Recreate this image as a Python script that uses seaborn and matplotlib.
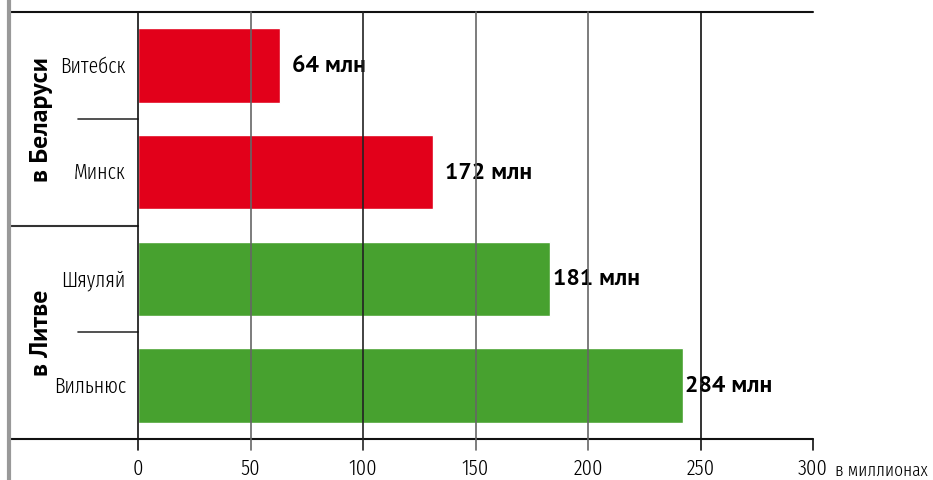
import matplotlib
matplotlib.use('Agg')
import matplotlib.pyplot as plt
import matplotlib.transforms as mtransforms
from matplotlib.lines import Line2D
import seaborn as sns
import pandas as pd

# data
cities = ['Витебск', 'Минск', 'Шяуляй', 'Вильнюс']
groups = ['в Беларуси', 'в Беларуси', 'в Литве', 'в Литве']
bar_values = [63, 131, 183, 242]
value_labels = ['64 млн', '172 млн', '181 млн', '284 млн']
x_ticks = [0, 50, 100, 150, 200, 250, 300]
x_unit = 'в миллионах'

group_colors = {'в Беларуси': '#E2001A', 'в Литве': '#47A12F'}
label_offsets = [9, 9, 2, 2]  # points right of bar end

df = pd.DataFrame({'city': cities, 'group': groups, 'value': bar_values})

sns.set_theme(style='white')
narrow = ['Fira Sans Extra Condensed', 'Roboto Condensed', 'DejaVu Sans']
bold = ['PT Sans', 'Open Sans', 'DejaVu Sans']
plt.rcParams['font.family'] = narrow
txt_color = '#000000'
txt_weight = 350

fig = plt.figure(figsize=(9.33, 4.81), dpi=100)
ax = fig.add_axes([138 / 933, 41 / 481, 675 / 933, 427 / 481])

sns.barplot(data=df, x='value', y='city', hue='group', palette=group_colors,
            width=0.7, dodge=False, legend=False, saturation=1, ax=ax, zorder=2)

ax.set_xlim(0, 300)
ax.set_ylim(3.5, -0.5)
ax.set_xlabel('')
ax.set_ylabel('')
for s in ax.spines.values():
    s.set_visible(False)

# vertical grid lines, running a bit below the bottom rule
grid_colors = ['#666666', '#222222', '#666666', '#666666', '#111111']
for x, c in zip(x_ticks[1:-1], grid_colors):
    ax.plot([x, x], [-0.5, 3.6], color=c, lw=1.2, clip_on=False, zorder=3)
ax.plot([0, 0], [-0.5, 3.6], color='#111111', lw=1.2, clip_on=False, zorder=3)
ax.plot([300, 300], [3.5, 3.6], color='#111111', lw=1.2, clip_on=False, zorder=3)

ax.set_xticks(x_ticks)
ax.set_xticklabels([str(t) for t in x_ticks], fontsize=16, family=narrow,
                   fontweight=txt_weight, color=txt_color)
ax.tick_params(axis='x', length=0, pad=13)
ax.set_yticks([])

ax.text(1.033, -0.072, x_unit, transform=ax.transAxes, fontsize=13.5,
        family=narrow, fontweight=txt_weight, color=txt_color, ha='left', va='center')

# category labels
trans = mtransforms.blended_transform_factory(ax.transAxes, ax.transData)
for i, c in enumerate(cities):
    ax.text(-0.018, i, c, transform=trans, ha='right', va='center',
            fontsize=15.5, family=narrow, fontweight=txt_weight, color=txt_color)

# value labels
for i, (v, lab) in enumerate(zip(bar_values, value_labels)):
    ax.annotate(lab, (v, i), xytext=(label_offsets[i], 0), textcoords='offset points',
                ha='left', va='center', fontsize=17, fontweight='bold',
                family=bold, color='black', zorder=1)

# group labels
for g in dict.fromkeys(groups):
    idx = [i for i, gg in enumerate(groups) if gg == g]
    ax.text(-0.143, sum(idx) / len(idx), g, transform=trans, rotation=90,
            ha='center', va='center', fontsize=18.5, fontweight='bold',
            family=bold, color='black')

# frame rules
left_x = (10 - 138) / 675
for y in [-0.5, 3.5]:
    ax.plot([left_x, 1], [y, y], transform=trans, color='#111111', lw=1.5, clip_on=False)
ax.plot([left_x, 0], [1.5, 1.5], transform=trans, color='#333333', lw=1.5, clip_on=False)
for y in [0.5, 2.5]:
    ax.plot([(78 - 138) / 675, 0], [y, y], transform=trans, color='#333333', lw=1.2, clip_on=False)

fig.add_artist(Line2D([9 / 933, 9 / 933], [0, 1], color='#999999', lw=3))

fig.savefig('out.png', dpi=100)
plt.close(fig)
